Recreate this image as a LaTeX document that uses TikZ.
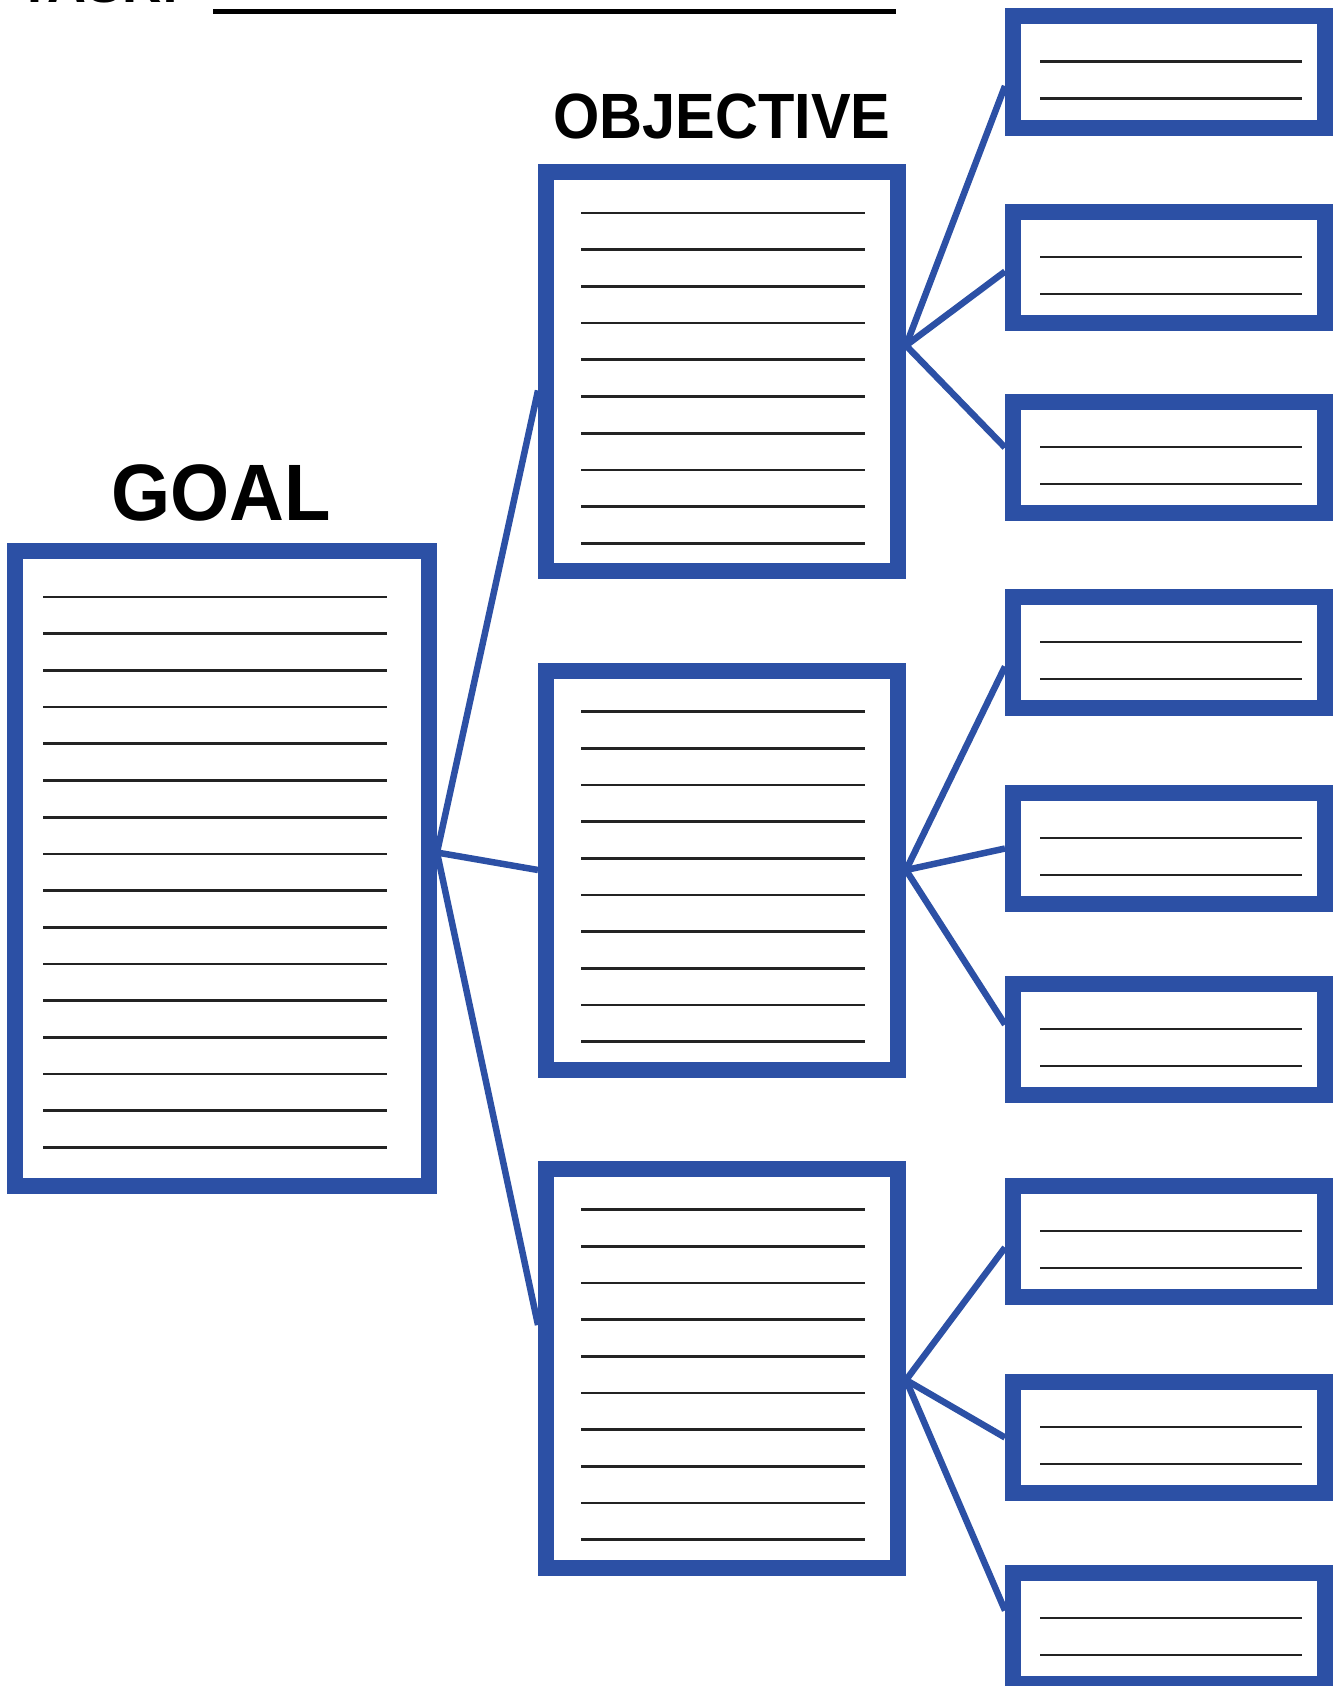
\documentclass[tikz,border=0pt]{standalone}
\usepackage{fontspec}
\setmainfont{Liberation Sans}
\usepackage{tikz}
\usetikzlibrary{calc}

\definecolor{boxblue}{RGB}{44,80,165}
\definecolor{ruleink}{RGB}{35,35,35}

\tikzset{
    goalbox/.style={draw=boxblue, line width=16pt, fill=white, inner sep=0pt,
        minimum width=414pt, minimum height=635pt},
    objbox/.style={draw=boxblue, line width=16pt, fill=white, inner sep=0pt,
        minimum width=352pt, minimum height=399pt},
    subbox/.style={draw=boxblue, line width=16pt, fill=white, inner sep=0pt,
        minimum width=312pt, minimum height=111pt},
    link/.style={draw=boxblue, line width=6.5pt},
    rule/.style={draw=ruleink, line width=2.7pt},
    heading/.style={inner sep=0pt, font=\bfseries}
}

\begin{document}
\begin{tikzpicture}[x=1pt, y=-1pt]
        \useasboundingbox[fill=white] (0,0) rectangle (1336,1686);

        % Task line at the top
        \node[heading, anchor=base west] (task) at (18,3)
            {\fontsize{58}{60}\selectfont\scalebox{0.93}[1]{TASK:}};
        \coordinate (taskstart) at (213,12);
        \coordinate (taskend) at (896,12);
        \draw[line width=5pt] (taskstart) -- (taskend);

        % Headings
        \node[heading, anchor=base] (goaltitle) at (221,520)
            {\fontsize{80}{82}\selectfont\scalebox{0.95}[1]{GOAL}};
        \node[heading, anchor=base] (objtitle) at (722,138)
            {\fontsize{64}{66}\selectfont\scalebox{0.93}[1]{OBJECTIVE}};

        % Goal box
        \node[goalbox] (goal) at (222,868.5) {};

        % Objective boxes
        \node[objbox] (obj1) at (722,371.5) {};
        \node[objbox] (obj2) at (722,870) {};
        \node[objbox] (obj3) at (722,1368) {};

        % Small boxes on the right
        \foreach \n/\y in {1/72, 2/267.5, 3/457.5, 4/652.5, 5/848.5,
                           6/1039.5, 7/1241.5, 8/1437.5, 9/1628.5}
            \node[subbox] (sub\n) at (1169,\y) {};

        % Writing lines
        \foreach \k in {0,...,15}
            \draw[rule] ([shift={(36,54+36.7*\k)}]goal.north west) -- ++(344,0);
        \foreach \b in {obj1,obj2,obj3}
            \foreach \k in {0,...,9}
                \draw[rule] ([shift={(43,49+36.7*\k)}]\b.north west) -- ++(284,0);
        \foreach \n in {1,...,9}
            \foreach \dy in {53,90}
                \draw[rule] ([shift={(35,\dy)}]sub\n.north west) -- ++(262,0);

        % Goal to objectives
        \draw[link] ([yshift=16pt]goal.east) -- ([yshift=-19pt]obj1.west);
        \draw[link] ([yshift=16pt]goal.east) -- (obj2.west);
        \draw[link] ([yshift=16pt]goal.east) -- ([yshift=43pt]obj3.west);

        % Objectives to small boxes
        \draw[link] ([yshift=26pt]obj1.east) -- ([yshift=-14pt]sub1.west);
        \draw[link] ([yshift=26pt]obj1.east) -- ([yshift=-4pt]sub2.west);
        \draw[link] ([yshift=26pt]obj1.east) -- ([yshift=10pt]sub3.west);
        \draw[link] (obj2.east) -- ([yshift=-14pt]sub4.west);
        \draw[link] (obj2.east) -- (sub5.west);
        \draw[link] (obj2.east) -- ([yshift=15pt]sub6.west);
        \draw[link] ([yshift=-12pt]obj3.east) -- ([yshift=-6pt]sub7.west);
        \draw[link] ([yshift=-12pt]obj3.east) -- (sub8.west);
        \draw[link] ([yshift=-12pt]obj3.east) -- ([yshift=18pt]sub9.west);

    \end{tikzpicture}
\end{document}
